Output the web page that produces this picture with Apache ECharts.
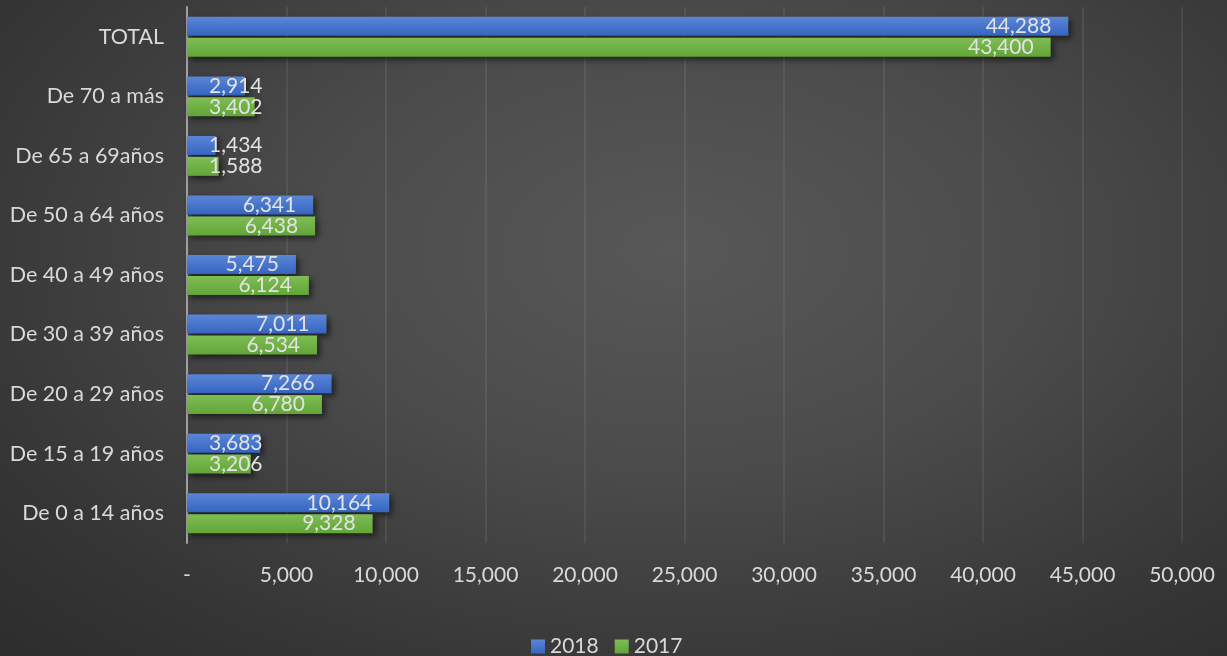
<!DOCTYPE html>
<html>
<head>
<meta charset="utf-8">
<script src="https://cdn.jsdelivr.net/npm/echarts@6/dist/echarts.min.js"></script>
<style>
html,body{margin:0;padding:0;width:1227px;height:656px;overflow:hidden;}
#main{width:1227px;height:656px;background:radial-gradient(ellipse 75% 85% at 55% 38%, #585858 0%, #4b4b4b 40%, #363636 80%, #2e2e2e 100%);}
</style>
</head>
<body>
<div id="main"></div>
<script>
const categories = ['De 0 a 14 años','De 15 a 19 años','De 20 a 29 años','De 30 a 39 años','De 40 a 49 años','De 50 a 64 años','De 65 a 69años','De 70 a más','TOTAL'];
const values2018 = [10164, 3683, 7266, 7011, 5475, 6341, 1434, 2914, 44288];
const values2017 = [9328, 3206, 6780, 6534, 6124, 6438, 1588, 3402, 43400];
const xTicks = [0, 5000, 10000, 15000, 20000, 25000, 30000, 35000, 40000, 45000, 50000];

const fmt = v => v === 0 ? '-' : v.toLocaleString('en-US');
const labelFont = 'Lato, "Open Sans", sans-serif';

function items(arr){
  return arr.map(v => {
    if (v < 4500) {
      return {value: v, label: {position: 'insideLeft', distance: 22}};
    }
    return {value: v};
  });
}

function barSeries(name, arr, top, bottom){
  return {
    name: name,
    type: 'bar',
    data: items(arr),
    barWidth: 19,
    barGap: '10%',
    itemStyle: {
      color: {type:'linear', x:0, y:0, x2:0, y2:1, colorStops:[{offset:0,color:top},{offset:1,color:bottom}]},
      shadowColor: 'rgba(0,0,0,0.55)',
      shadowBlur: 6,
      shadowOffsetX: 3,
      shadowOffsetY: 3
    },
    label: {
      show: true,
      position: 'insideRight',
      distance: 17,
      color: '#e2e2e2',
      fontSize: 21,
      fontFamily: labelFont,
      formatter: p => p.value.toLocaleString('en-US')
    }
  };
}

const chart = echarts.init(document.getElementById('main'));
chart.setOption({
  backgroundColor: 'transparent',
  animation: false,
  grid: {left: 187, right: 45, top: 7, bottom: 113, containLabel: false},
  legend: {
    data: ['2018', '2017'],
    top: 631,
    left: 526,
    icon: 'rect',
    itemWidth: 14,
    itemHeight: 14,
    itemGap: 16,
    itemStyle: {shadowBlur: 0},
    textStyle: {color: '#d9d9d9', fontSize: 21, fontFamily: labelFont}
  },
  xAxis: {
    type: 'value',
    min: xTicks[0],
    max: xTicks[xTicks.length - 1],
    interval: xTicks[1] - xTicks[0],
    axisLine: {show: false},
    axisTick: {show: false},
    splitLine: {show: true, lineStyle: {color: 'rgba(255,255,255,0.1)', width: 1.5}},
    axisLabel: {color: '#d9d9d9', fontSize: 21, fontFamily: labelFont, margin: 22, formatter: fmt}
  },
  yAxis: {
    type: 'category',
    data: categories,
    axisLine: {show: true, lineStyle: {color: '#a0a0a0', width: 2}},
    axisTick: {show: false},
    axisLabel: {color: '#d9d9d9', fontSize: 21.5, fontFamily: labelFont, margin: 23}
  },
  series: [
    barSeries('2018', values2018, '#5b86d6', '#3565c2'),
    barSeries('2017', values2017, '#7fbd55', '#62a537')
  ]
});
</script>
</body>
</html>
